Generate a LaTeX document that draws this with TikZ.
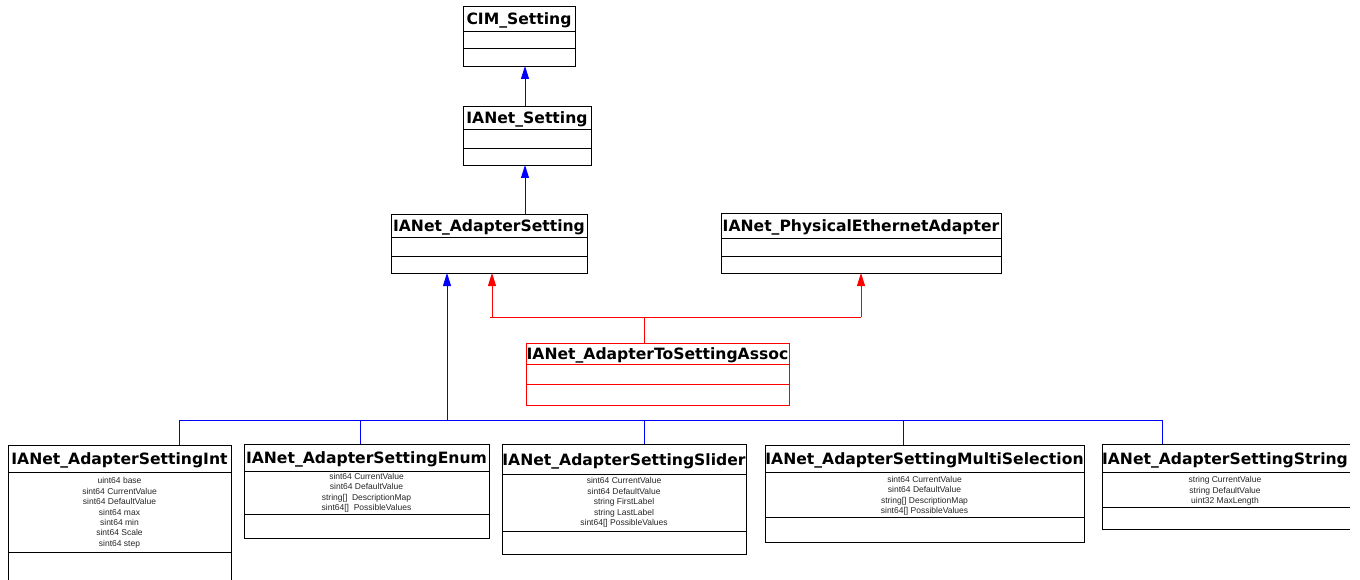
\documentclass[tikz,border=0pt]{standalone}
\usepackage{fontspec}
\newfontfamily\titlefont{DejaVu Sans}
\newfontfamily\attrfont{Liberation Sans}
\usetikzlibrary{fit,arrows.meta}
\tikzset{
  box/.style={inner sep=0pt, outer sep=0pt, line width=0.9pt},
  divline/.style={line width=0.9pt},
  ttl/.style={font=\titlefont\bfseries\fontsize{15.6}{16}\selectfont, inner sep=0pt, anchor=base},
  attr/.style={font=\attrfont\fontsize{8.5}{10.4}\selectfont, align=center, inner sep=0pt, anchor=north, text=black!85},
  genline/.style={draw=blue, line width=0.9pt},
  gen/.style={genline, -{Triangle[length=13pt,width=8pt]}},
  assline/.style={draw=red, line width=0.9pt},
  ass/.style={assline, -{Triangle[length=13pt,width=8pt]}},
}
\newcommand\umlclass[8]{% name, colour, x1, y1, x2, y2, div1, div2
  \node[box, fit={(#3,#4)(#5,#6)}, draw=#2] (#1) {};
  \draw[divline, #2] (#3,#7) -- (#5,#7) (#3,#8) -- (#5,#8);
}
\begin{document}
\begin{tikzpicture}[x=1pt,y=-1pt]
\fill[white] (0,0) rectangle (1360,580);
\useasboundingbox (0,0) rectangle (1360,580);

% top hierarchy
\umlclass{cim}{black}{463}{6}{575}{66}{31}{48}
\node[ttl] (cimt) at (519,25) {CIM\_Setting};
\umlclass{set}{black}{463}{106}{591}{165}{129}{148}
\node[ttl] (sett) at (527,123.3) {IANet\_Setting};
\umlclass{aset}{black}{391}{214}{587}{273}{237}{256}
\node[ttl] (asett) at (489,231.5) {IANet\_AdapterSetting};
\umlclass{phys}{black}{721}{213}{1001}{273}{238}{256}
\node[ttl] (physt) at (861,231.5) {IANet\_PhysicalEthernetAdapter};
\umlclass{assoc}{red}{526}{343}{789}{405}{364}{384}
\node[ttl] (assoct) at (657.5,359) {IANet\_AdapterToSettingAssoc};

% bottom classes
\node[box, fit={(8,445)(231,580)}] (int) {};
\draw[divline] (8,580) -- (8,445) -- (231,445) -- (231,580) (8,472) -- (231,472) (8,552) -- (231,552);
\node[ttl] (intt) at (119.5,464.5) {IANet\_AdapterSettingInt};
\node[attr] (inta) at (119.5,477.5) {uint64 base\\sint64 CurrentValue\\sint64 DefaultValue\\sint64 max\\sint64 min\\sint64 Scale\\sint64 step};

\umlclass{enum}{black}{244}{444}{489}{538}{471}{514}
\node[ttl] (enumt) at (366.5,463.5) {IANet\_AdapterSettingEnum};
\node[attr] (enuma) at (366.5,473.2) {sint64 CurrentValue\\sint64 DefaultValue\\string[]\ \ DescriptionMap\\sint64[]\ \ PossibleValues};

\umlclass{slid}{black}{502}{444}{746}{554}{474}{531}
\node[ttl] (slidt) at (624,465) {IANet\_AdapterSettingSlider};
\node[attr] (slida) at (624,477.5) {sint64 CurrentValue\\sint64 DefaultValue\\string FirstLabel\\string LastLabel\\sint64[] PossibleValues};

\umlclass{multi}{black}{765}{445}{1084}{542}{472}{517}
\node[ttl] (multit) at (924.5,464.5) {IANet\_AdapterSettingMultiSelection};
\node[attr] (multia) at (924.5,476.2) {sint64 CurrentValue\\sint64 DefaultValue\\string[] DescriptionMap\\sint64[] PossibleValues};

\node[box, fit={(1102,444)(1350,529)}] (str) {};
\draw[divline] (1350,444) -- (1102,444) -- (1102,529) -- (1350,529) (1102,472) -- (1350,472) (1102,507) -- (1350,507);
\node[ttl] (strt) at (1225,464.5) {IANet\_AdapterSettingString};
\node[attr] (stra) at (1225,476.5) {string CurrentValue\\string DefaultValue\\uint32 MaxLength};

% generalisation connectors
\coordinate (jx) at (525,0);
\draw[gen] (set.north -| jx) -- (cim.south -| jx);
\draw[gen] (aset.north -| jx) -- (set.south -| jx);

\coordinate (bus) at (447,420);
\coordinate (b1) at (179,420);
\coordinate (b2) at (360,420);
\coordinate (b3) at (644,420);
\coordinate (b4) at (903,420);
\coordinate (b5) at (1162,420);
\draw[gen] (bus) -- (aset.south -| bus);
\draw[genline] (b1) -- (b5);
\draw[genline] (b1) -- (int.north -| b1);
\draw[genline] (b2) -- (enum.north -| b2);
\draw[genline] (b3) -- (slid.north -| b3);
\draw[genline] (b4) -- (multi.north -| b4);
\draw[genline] (b5) -- (str.north -| b5);

% association connectors
\coordinate (rl) at (490,317);
\coordinate (ra) at (492,317);
\coordinate (rm) at (644,317);
\coordinate (rr) at (861,317);
\draw[assline] (rl) -- (rr);
\draw[ass] (ra) -- (aset.south -| ra);
\draw[ass] (rr) -- (phys.south -| rr);
\draw[assline] (rm) -- (assoc.north -| rm);
\end{tikzpicture}
\end{document}
